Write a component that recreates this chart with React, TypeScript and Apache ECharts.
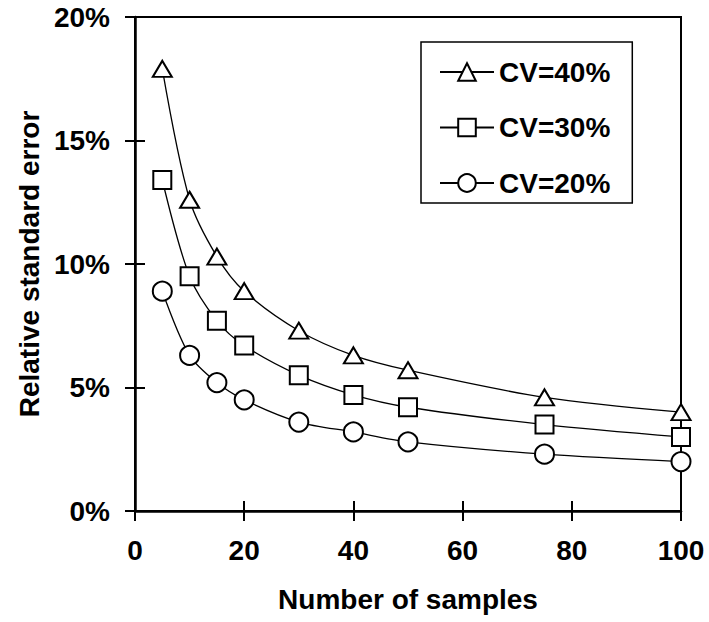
import React, { useEffect, useRef } from "react";
import * as echarts from "echarts";

const samples = [5, 10, 15, 20, 30, 40, 50, 75, 100];
const cv40 = [17.9, 12.6, 10.3, 8.9, 7.3, 6.3, 5.7, 4.6, 4.0];
const cv30 = [13.4, 9.5, 7.7, 6.7, 5.5, 4.7, 4.2, 3.5, 3.0];
const cv20 = [8.9, 6.3, 5.2, 4.5, 3.6, 3.2, 2.8, 2.3, 2.0];
const seriesNames = ["CV=40%", "CV=30%", "CV=20%"];
const xTitle = "Number of samples";
const yTitle = "Relative standard error";

const FONT = "'Liberation Sans', Arial, Helvetica, sans-serif";

export default function App() {
  const ref = useRef<HTMLDivElement>(null);
  useEffect(() => {
    if (!ref.current) return;
    const chart = echarts.init(ref.current, null, { renderer: "svg" });
    const mk = (name: string, vals: number[], symbol: string, size: any) => ({
      name,
      type: "line",
      data: samples.map((x, i) => [x, vals[i]]),
      smooth: 0.3,
      clip: false,
      symbol,
      symbolSize: size,
      showAllSymbol: true,
      lineStyle: { color: "#000", width: 1.3 },
      itemStyle: { color: "#fff", borderColor: "#000", borderWidth: 2 },
      emphasis: { disabled: true },
      z: 3,
    });
    const baseLabel = { fontFamily: FONT, fontWeight: "bold", fontSize: 28, color: "#000" };
    chart.setOption({
      animation: false,
      backgroundColor: "#fff",
      grid: {
        left: 135,
        right: 28,
        top: 17,
        bottom: 111,
        show: true,
        borderColor: "#000",
        borderWidth: 2,
        backgroundColor: "transparent",
      },
      legend: {
        orient: "vertical",
        left: 421,
        top: 42,
        padding: [16, 22, 6, 18],
        itemGap: 27.5,
        itemWidth: 54,
        itemHeight: 22,
        backgroundColor: "#fff",
        borderColor: "#000",
        borderWidth: 1.5,
        data: seriesNames,
        textStyle: { ...baseLabel },
      },
      xAxis: [
        {
          type: "value",
          position: "bottom",
          min: 0,
          max: 100,
          interval: 20,
          name: xTitle,
          nameLocation: "middle",
          nameGap: 74,
          nameTextStyle: { ...baseLabel },
          axisLine: { lineStyle: { color: "#000", width: 2.5 } },
          axisTick: { show: true, inside: false, length: 10, lineStyle: { color: "#000", width: 2 } },
          axisLabel: { ...baseLabel, margin: 25 },
          splitLine: { show: false },
        },
        {
          type: "value",
          position: "bottom",
          min: 0,
          max: 100,
          interval: 20,
          axisLine: { show: false },
          axisTick: { show: true, inside: true, length: 10, lineStyle: { color: "#000", width: 2 } },
          axisLabel: { show: false },
          splitLine: { show: false },
        },
      ],
      yAxis: [
        {
          type: "value",
          position: "left",
          min: 0,
          max: 20,
          interval: 5,
          name: yTitle,
          nameLocation: "middle",
          nameGap: 88,
          nameRotate: 90,
          nameTextStyle: { ...baseLabel },
          axisLine: { show: true, lineStyle: { color: "#000", width: 2.5 } },
          axisTick: { show: true, inside: false, length: 10, lineStyle: { color: "#000", width: 2 } },
          axisLabel: { ...baseLabel, margin: 25, formatter: "{value}%" },
          splitLine: { show: false },
        },
        {
          type: "value",
          position: "left",
          min: 0,
          max: 20,
          interval: 5,
          axisLine: { show: false },
          axisTick: { show: true, inside: true, length: 10, lineStyle: { color: "#000", width: 2 } },
          axisLabel: { show: false },
          splitLine: { show: false },
        },
      ],
      series: [
        mk(seriesNames[0], cv40, "triangle", [19, 16]),
        mk(seriesNames[1], cv30, "rect", 18),
        mk(seriesNames[2], cv20, "circle", 19),
      ],
    });
    return () => chart.dispose();
  }, []);
  return (
    <div
      ref={ref}
      style={{ position: "absolute", left: 0, top: 0, width: 709, height: 622 }}
    />
  );
}
